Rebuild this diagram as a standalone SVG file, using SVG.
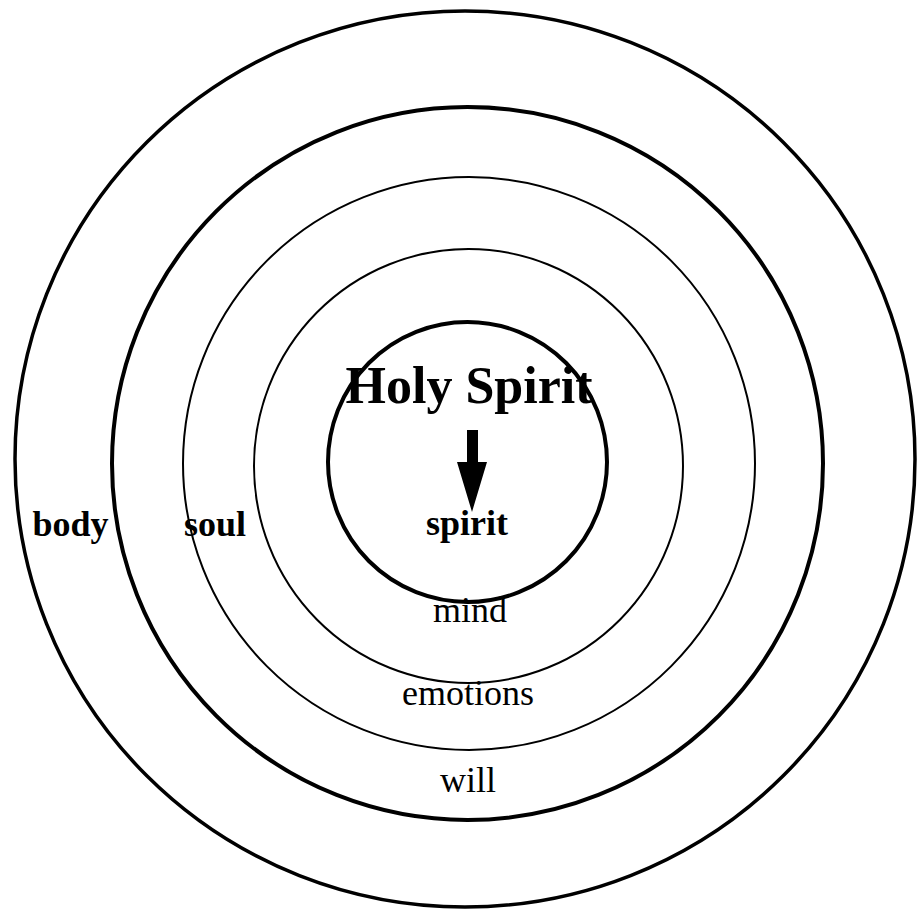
<svg xmlns="http://www.w3.org/2000/svg" width="917" height="910" viewBox="0 0 917 910">
<style>
.ring{fill:none;stroke:#000}
.thick{stroke-width:4}
.thin{stroke-width:2}
text{font-family:"Liberation Serif","Times New Roman",serif;fill:#000;text-anchor:middle}
.b{font-weight:bold;font-size:36px}
.r{font-size:36px}
.big{font-weight:bold;font-size:52px}
</style>
<rect width="917" height="910" fill="#fff"/>
<g id="body-ring"><ellipse class="ring" cx="465" cy="459" rx="450" ry="448" stroke-width="3.5"/></g>
<g id="will-ring"><ellipse class="ring thick" cx="467.5" cy="463.5" rx="355.5" ry="356.5"/></g>
<g id="emotions-ring"><ellipse class="ring thin" cx="469" cy="463.5" rx="286" ry="286.5"/></g>
<g id="mind-ring"><ellipse class="ring thin" cx="468.5" cy="466" rx="214.5" ry="217"/></g>
<g id="spirit-ring"><ellipse class="ring thick" cx="467.5" cy="462" rx="139.5" ry="140"/></g>
<g id="labels">
<text class="b" x="70.5" y="536">body</text>
<text class="b" x="215" y="536">soul</text>
<text class="b" x="467" y="535">spirit</text>
<text class="r" x="470" y="622">mind</text>
<text class="r" x="468" y="705">emotions</text>
<text class="r" x="468" y="792">will</text>
</g>
<g id="holy-spirit"><text class="big" x="469" y="403">Holy Spirit</text></g>
<g id="connectors">
<polygon points="467,430 478,430 478,462 487,462 472,512 457,462 467,462" fill="#000"/>
</g>
</svg>
